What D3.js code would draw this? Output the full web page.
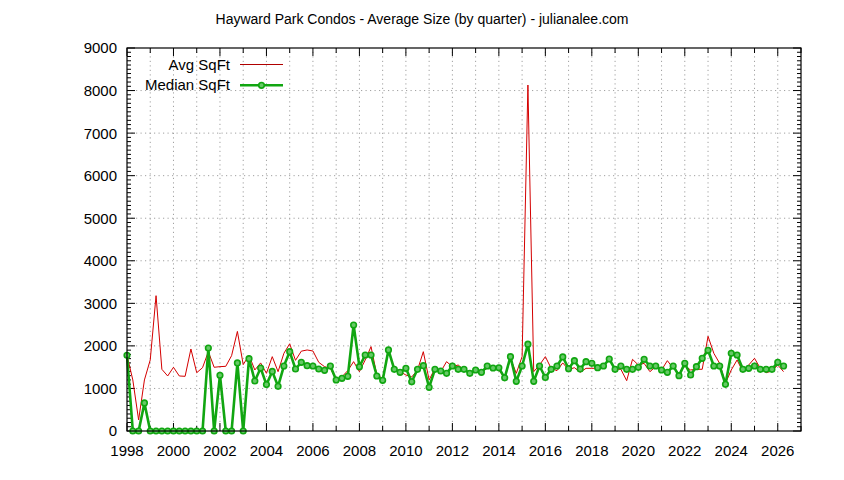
<!DOCTYPE html>
<html><head><meta charset="utf-8">
<script src="https://cdn.jsdelivr.net/npm/d3@7"></script>
<style>
html,body{margin:0;padding:0;background:#fff;}
svg{display:block;font-family:"Liberation Sans",Arial,sans-serif;}
</style></head>
<body><svg id="c" width="844" height="480"></svg>
<script>
const startYear = 1998;            // first quarter = 1998 Q1
const xTickLabels = [1998,2000,2002,2004,2006,2008,2010,2012,2014,2016,2018,2020,2022,2024,2026];
const yTickLabels = [0,1000,2000,3000,4000,5000,6000,7000,8000,9000];
const seriesNames = ["Avg SqFt","Median SqFt"];
const avgSqft = [1780,1200,260,1200,1670,3180,1450,1293,1497,1293,1285,1927,1370,1488,1864,1497,1512,1520,1770,2340,
  1560,1780,1434,1600,1355,1747,1394,1825,2050,1660,1876,1904,1880,1614,1512,1473,1199,1277,1418,1630,
  1394,1669,1982,1316,1238,1904,1473,1394,1316,1270,1434,1864,1199,1473,1394,1630,1512,1551,1434,1355,
  1394,1394,1473,1488,1434,1238,1708,1355,1747,8130,1394,1551,1747,1473,1418,1600,1440,1488,1379,1473,
  1473,1473,1512,1708,1450,1450,1183,1684,1551,1590,1394,1512,1434,1653,1473,1355,1527,1434,1450,1450,
  2225,1825,1590,1120,1434,1669,1394,1551,1708,1473,1370,1410,1551,1394];
const medianSqft = [1780,0,0,660,0,0,0,0,0,0,0,0,0,0,1950,0,1310,0,0,1600,
  0,1700,1175,1480,1090,1400,1050,1527,1864,1457,1614,1535,1527,1457,1426,1527,1199,1238,1285,2491,
  1512,1786,1786,1293,1191,1904,1450,1379,1473,1155,1450,1535,1027,1450,1410,1355,1527,1450,1450,1355,
  1434,1379,1527,1480,1485,1250,1747,1167,1527,2040,1167,1527,1258,1450,1527,1740,1465,1653,1457,1630,
  1590,1488,1527,1692,1450,1527,1450,1450,1497,1684,1527,1527,1434,1379,1527,1301,1590,1316,1512,1708,
  1896,1527,1527,1097,1825,1786,1450,1473,1527,1450,1450,1450,1614,1527];

const svg = d3.select("#c");
const L=127,R=801,T=48,B=431;
const x = d3.scaleLinear().domain([1998,2027]).range([L,R]);
const y = d3.scaleLinear().domain([0,9000]).range([B,T]);
const qx = i => x(startYear + i/4);

// title
svg.append("text").attr("x",422).attr("y",24).attr("text-anchor","middle")
  .attr("font-size",14).attr("fill","#000")
  .text("Hayward Park Condos - Average Size (by quarter) - julianalee.com");

// grid
const grid = svg.append("g").attr("stroke","#a0a0a0").attr("stroke-width",1).attr("stroke-dasharray","1.2,3.3");
d3.range(1999,2027).forEach(v=>{
  grid.append("line").attr("x1",x(v)).attr("x2",x(v)).attr("y1",B).attr("y2",T);
});
yTickLabels.slice(1,-1).forEach(v=>{
  grid.append("line").attr("x1",L).attr("x2",R).attr("y1",y(v)).attr("y2",y(v));
});

// ticks
const tk = svg.append("g").attr("stroke","#000").attr("stroke-width",1);
d3.range(1998,2028).forEach(v=>{
  const len = xTickLabels.includes(v) ? 8 : 5;
  tk.append("line").attr("x1",x(v)).attr("x2",x(v)).attr("y1",B).attr("y2",B-len);
  tk.append("line").attr("x1",x(v)).attr("x2",x(v)).attr("y1",T).attr("y2",T+len);
});
d3.range(0,9001,100).forEach(v=>{
  const len = v%1000===0 ? 8 : 4;
  tk.append("line").attr("x1",L).attr("x2",L+len).attr("y1",y(v)).attr("y2",y(v));
  tk.append("line").attr("x1",R).attr("x2",R-len).attr("y1",y(v)).attr("y2",y(v));
});

// tick labels
svg.append("g").selectAll("text").data(yTickLabels).join("text")
  .attr("x",L-10).attr("y",d=>y(d)).attr("dy","0.36em").attr("text-anchor","end")
  .attr("font-size",15).text(d=>d);
svg.append("g").selectAll("text").data(xTickLabels).join("text")
  .attr("x",d=>x(d)).attr("y",456).attr("text-anchor","middle")
  .attr("font-size",15).text(d=>d);

// lines
const redC="#d40000", greenC="#11a611";
const line = d3.line().x((d,i)=>qx(i)).y(d=>y(d));
const clip = svg.append("defs").append("clipPath").attr("id","pc").append("rect")
  .attr("x",L).attr("y",T).attr("width",R-L).attr("height",B-T);
const plot = svg.append("g");
plot.append("path").datum(avgSqft).attr("d",line).attr("fill","none")
  .attr("stroke",redC).attr("stroke-width",1);
plot.append("path").datum(medianSqft).attr("d",line).attr("fill","none")
  .attr("stroke",greenC).attr("stroke-width",2.6).attr("stroke-linejoin","round");
plot.append("g").selectAll("circle").data(medianSqft).join("circle")
  .attr("cx",(d,i)=>qx(i)).attr("cy",d=>y(d)).attr("r",2.8)
  .attr("fill","#66c966").attr("stroke",greenC).attr("stroke-width",1.6);

// border
svg.append("rect").attr("x",L).attr("y",T).attr("width",R-L).attr("height",B-T)
  .attr("fill","none").attr("stroke","#000").attr("stroke-width",1.2);

// legend
const lg = svg.append("g");
lg.append("text").attr("x",230).attr("y",65).attr("dy","0.36em").attr("text-anchor","end").attr("font-size",15).text(seriesNames[0]);
lg.append("line").attr("x1",240).attr("x2",283).attr("y1",64.5).attr("y2",64.5).attr("stroke","#b00000").attr("stroke-width",1);
lg.append("text").attr("x",230).attr("y",85).attr("dy","0.36em").attr("text-anchor","end").attr("font-size",15).text(seriesNames[1]);
lg.append("line").attr("x1",240).attr("x2",283).attr("y1",85.3).attr("y2",85.3).attr("stroke",greenC).attr("stroke-width",2.6);
lg.append("circle").attr("cx",261.5).attr("cy",85.3).attr("r",2.8).attr("fill","#66c966").attr("stroke",greenC).attr("stroke-width",1.6);
</script></body></html>
